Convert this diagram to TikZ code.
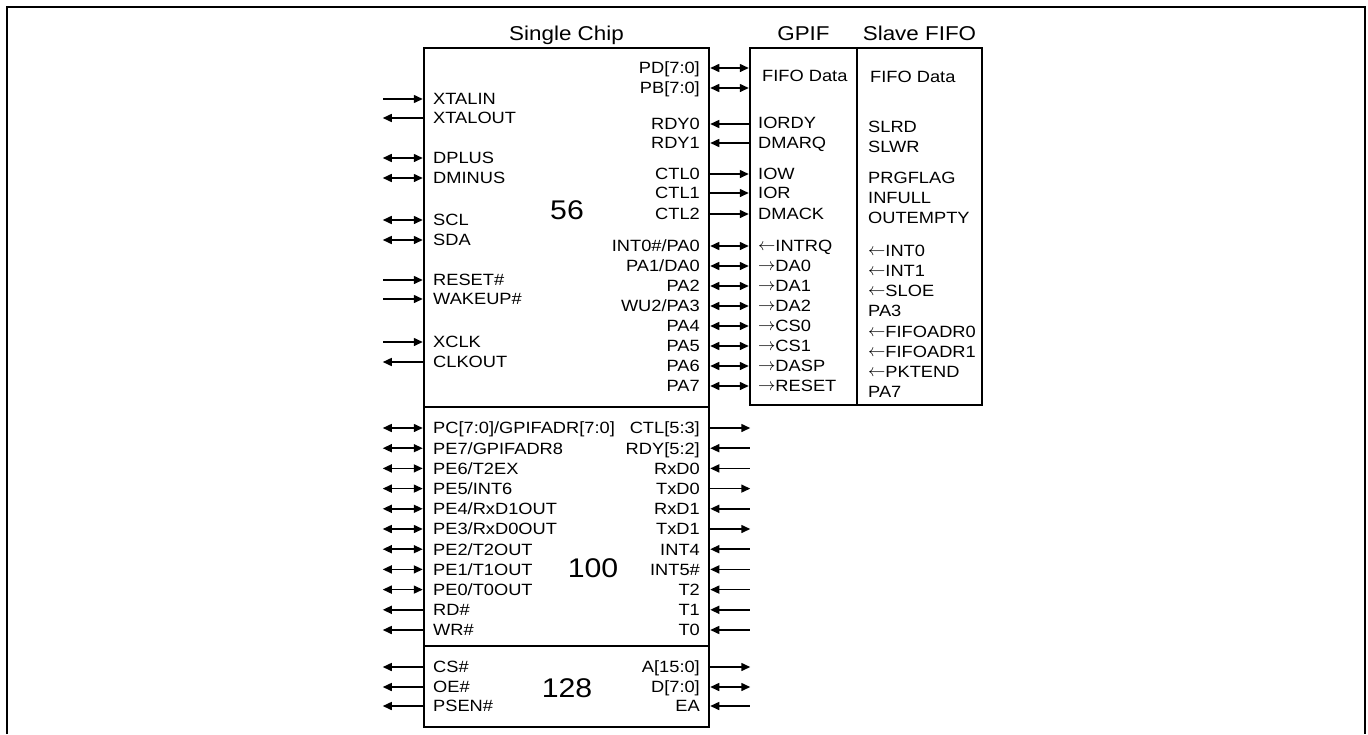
\documentclass[tikz,border=0pt]{standalone}
\usepackage{fontspec}
\setmainfont{Liberation Sans}[FakeStretch=1.12]
\usetikzlibrary{arrows.meta, positioning}
\newcommand{\arl}{\raisebox{1.8pt}{$\leftarrow$}}
\newcommand{\arr}{\raisebox{1.8pt}{$\rightarrow$}}

\begin{document}
\begin{tikzpicture}[x=1pt, y=-1pt,
    >={Triangle[length=9pt, width=8pt]},
    chipbox/.style={draw, line width=2.5pt, inner sep=0pt},
    title/.style={font=\fontsize{20}{24}\selectfont, inner sep=0pt},
    count/.style={font=\fontsize{27}{32}\selectfont, inner sep=0pt},
    sig/.style={font=\fontsize{16.3}{19}\selectfont, inner sep=0pt, text height=11.7pt, text depth=0pt},
    sigin/.style={line width=1.5pt, <-},
    sigout/.style={line width=1.5pt, ->},
    sigbi/.style={line width=1.5pt, <->}]

    \useasboundingbox (0,0) rectangle (1368,734);
    \draw[line width=2pt] (7,734) -- (7,7) -- (1365,7) -- (1365,734);

    % Boxes : the three parts of the chip, GPIF and slave FIFO
    \node[chipbox, minimum width=285pt, minimum height=359pt] (chip56) at (566.5,227.5) {};
    \node[chipbox, minimum width=285pt, minimum height=239pt] (chip100) at (566.5,526.5) {};
    \node[chipbox, minimum width=285pt, minimum height=81pt] (chip128) at (566.5,686.5) {};
    \node[chipbox, minimum width=107pt, minimum height=357pt] (gpif) at (803.5,226.5) {};
    \node[chipbox, minimum width=125pt, minimum height=357pt] (slave) at (919.5,226.5) {};

    \node[title, above=6.5pt of chip56, anchor=base] (tchip) {Single Chip};
    \node[title, above=6.5pt of gpif, anchor=base] (tgpif) {GPIF};
    \node[title, above=6.5pt of slave, anchor=base] (tslave) {Slave FIFO};

    \node[count] (n56) at (567,210) {56};
    \node[count] (n100) at (593,568) {100};
    \node[count] (n128) at (567,688) {128};

    % 56 pins, left side
    \foreach \lname/\y/\ldir [count=\i] in {XTALIN/99/sigin, XTALOUT/118/sigout, DPLUS/158/sigbi, DMINUS/178/sigbi, SCL/220/sigbi, SDA/240/sigbi, RESET\#/280/sigin, WAKEUP\#/299/sigin, XCLK/342/sigin, CLKOUT/362/sigout}
    {
        \node[sig, anchor=west] (pl\i) at (433,\y) {\lname};
        \draw[\ldir] (chip56.west |- pl\i) -- ++(-40,0);
    }

    % 56 pins, right side (to GPIF)
    \foreach \rname/\y/\rdir [count=\i] in {{PD[7:0]}/68/sigbi, {PB[7:0]}/88/sigbi, RDY0/124/sigin, RDY1/143/sigin, CTL0/174/sigout, CTL1/193/sigout, CTL2/214/sigout, {INT0\#/PA0}/246/sigbi, {PA1/DA0}/266/sigbi, PA2/286/sigbi, {WU2/PA3}/306/sigbi, PA4/326/sigbi, PA5/346/sigbi, PA6/366/sigbi, PA7/386/sigbi}
    {
        \node[sig, anchor=east] (pr\i) at (700,\y) {\rname};
        \draw[\rdir] (chip56.east |- pr\i) -- (gpif.west |- pr\i);
    }

    % GPIF names
    \node[sig, anchor=west] (gfifo) at (762,76) {FIFO Data};
    \foreach \gname/\y [count=\i] in {IORDY/123, DMARQ/143, IOW/174, IOR/193, DMACK/214, \arl INTRQ/246, \arr DA0/266, \arr DA1/286, \arr DA2/306, \arr CS0/326, \arr CS1/346, \arr DASP/366, \arr RESET/386}
        \node[sig, anchor=west] (g\i) at (758,\y) {\gname};

    % Slave FIFO names
    \node[sig, anchor=west] (sfifo) at (870,77) {FIFO Data};
    \foreach \sname/\y [count=\i] in {SLRD/127, SLWR/147, PRGFLAG/178, INFULL/198, OUTEMPTY/218, \arl INT0/251, \arl INT1/271, \arl SLOE/291, PA3/311, \arl FIFOADR0/332, \arl FIFOADR1/352, \arl PKTEND/372, PA7/392}
        \node[sig, anchor=west] (s\i) at (868,\y) {\sname};

    % 100 pins
    \foreach \lname/\ldir/\rname/\rdir [count=\i] in {{PC[7:0]/GPIFADR[7:0]}/sigbi/{CTL[5:3]}/sigout, {PE7/GPIFADR8}/sigbi/{RDY[5:2]}/sigin, {PE6/T2EX}/sigbi/RxD0/sigin, {PE5/INT6}/sigbi/TxD0/sigout, {PE4/RxD1OUT}/sigbi/RxD1/sigin, {PE3/RxD0OUT}/sigbi/TxD1/sigout, {PE2/T2OUT}/sigbi/INT4/sigin, {PE1/T1OUT}/sigbi/INT5\#/sigin, {PE0/T0OUT}/sigbi/T2/sigin, RD\#/sigout/T1/sigin, WR\#/sigout/T0/sigin}
    {
        \node[sig, anchor=west] (ql\i) at (433,{428+20.2*(\i-1)}) {\lname};
        \node[sig, anchor=east] (qr\i) at (700,{428+20.2*(\i-1)}) {\rname};
        \draw[\ldir] (chip100.west |- ql\i) -- ++(-40,0);
        \draw[\rdir] (chip100.east |- qr\i) -- ++(40,0);
    }

    % 128 pins
    \foreach \lname/\ldir/\rname/\rdir/\y [count=\i] in {CS\#/sigout/{A[15:0]}/sigout/667, OE\#/sigout/{D[7:0]}/sigbi/687, PSEN\#/sigout/EA/sigin/706}
    {
        \node[sig, anchor=west] (el\i) at (433,\y) {\lname};
        \node[sig, anchor=east] (er\i) at (700,\y) {\rname};
        \draw[\ldir] (chip128.west |- el\i) -- ++(-40,0);
        \draw[\rdir] (chip128.east |- er\i) -- ++(40,0);
    }
\end{tikzpicture}
\end{document}
